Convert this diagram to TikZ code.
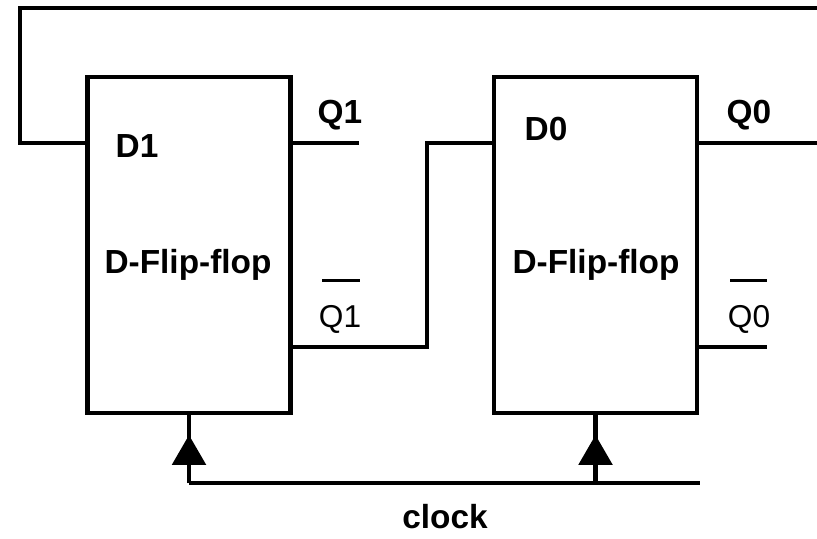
\documentclass[tikz,border=0pt]{standalone}
\usepackage{fontspec}
\setmainfont{Liberation Sans}
\usetikzlibrary{arrows.meta}

\begin{document}
\begin{tikzpicture}[x=0.02cm,y=-0.02cm,line width=2.4pt,
    ffbox/.style={draw,line width=2.8pt,minimum width=4.06cm,minimum height=6.72cm,inner sep=0pt,outer sep=0pt},
    lbl/.style={font=\fontsize{19}{22}\selectfont\bfseries,inner sep=0pt,anchor=base},
    qlbl/.style={font=\fontsize{18}{21}\selectfont,inner sep=0pt,anchor=base},
    qbar/.style={line width=1.7pt},
    clkarrow/.style={-{Triangle[length=17pt,width=19pt]}}]
    \useasboundingbox (0,0) rectangle (817,538);

    % Flip-flops
    \node[ffbox] (ff1) at (189,245) {};
    \node[ffbox] (ff0) at (595.5,245) {};
    \node[lbl] (name1) at (188,273) {D-Flip-flop};
    \node[lbl] (name0) at (596,273) {D-Flip-flop};

    % Pins
    \path (ff1.north west) ++(0,66) coordinate (d1);
    \path (ff1.north east) ++(0,66) coordinate (q1);
    \path (ff1.north east) ++(0,270) coordinate (q1n);
    \path (ff0.north west) ++(0,66) coordinate (d0);
    \path (ff0.north east) ++(0,66) coordinate (q0);
    \path (ff0.north east) ++(0,270) coordinate (q0n);

    \node[lbl] (d1lbl) at (137,157) {D1};
    \node[lbl] (q1lbl) at (340,123) {Q1};
    \node[lbl] (d0lbl) at (546,140) {D0};
    \node[lbl] (q0lbl) at (749,123) {Q0};
    \node[qlbl] (q1nlbl) at (340,327) {Q1};
    \node[qlbl] (q0nlbl) at (749,327) {Q0};
    \draw[qbar] (322,280) -- (360,280);
    \draw[qbar] (730,280) -- (767,280);

    % Wiring
    \coordinate (topR) at (817,8);
    \coordinate (topL) at (20,8);
    \coordinate (jog) at (427,0);
    \draw (topR) -- (topL) -- (topL |- d1) -- (d1);
    \draw (q1) -- ++(69,0);
    \draw (q1n) -| (jog |- d0) -- (d0);
    \draw (q0) -- (topR |- q0);
    \draw (q0n) -- ++(70,0);

    % Clock
    \coordinate (busE) at (700,483);
    \draw (ff1.south |- busE) -- (busE);
    \draw (ff1.south |- busE) -- (ff1.south);
    \draw (ff0.south |- busE) -- (ff0.south);
    \draw[clkarrow] (ff1.south |- busE) -- ++(0,-48);
    \draw[clkarrow] (ff0.south |- busE) -- ++(0,-48);
    \node[lbl] (clk) at (445,528) {clock};
\end{tikzpicture}
\end{document}
